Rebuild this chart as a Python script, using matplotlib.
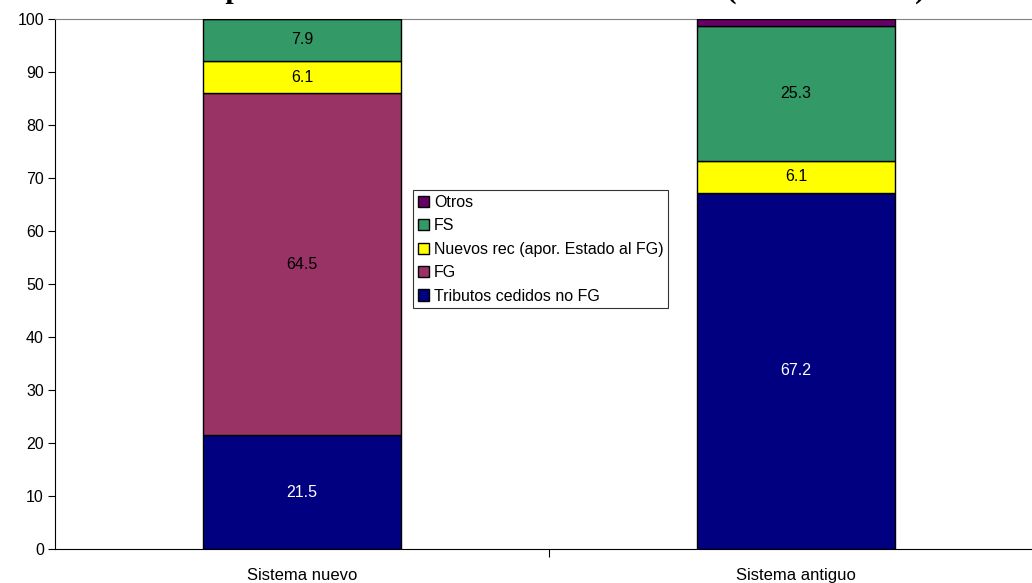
import matplotlib
matplotlib.use("Agg")
import matplotlib.pyplot as plt
import numpy as np

categories = ["Sistema nuevo", "Sistema antiguo"]
series_names = ["Tributos cedidos no FG", "FG", "Nuevos rec (apor. Estado al FG)", "FS", "Otros"]
tributos = [21.5, 67.2]
fg = [64.5, 0.0]
nuevos = [6.1, 6.1]
fs = [7.9, 25.3]
otros = [0.0, 1.4]
colors = ["#000080", "#993366", "#FFFF00", "#339966", "#660066"]
label_colors = ["white", "black", "black", "black", None]
y_ticks = [0, 10, 20, 30, 40, 50, 60, 70, 80, 90, 100]
title = "Composición de la financiación autonómica (en % del total)"

plt.rcParams['font.family'] = ['Liberation Sans', 'DejaVu Sans']

fig = plt.figure(figsize=(10.32, 5.83), dpi=100)
ax = fig.add_axes([55/1032, 1-549/583, 988/1032, 530/583])

x = np.arange(len(categories))
series = [tributos, fg, nuevos, fs, otros]
bottom = np.zeros(len(categories))
handles = []
for vals, name, col, lc in zip(series, series_names, colors, label_colors):
    vals = np.array(vals)
    bars = ax.bar(x, vals, width=0.40, bottom=bottom, color=col, edgecolor="black",
                  linewidth=1.0, label=name, zorder=3)
    handles.append(bars)
    if lc is not None:
        for xi, v, b in zip(x, vals, bottom):
            if v > 0:
                ax.text(xi, b + v / 2, f"{v:.1f}", ha="center", va="center",
                        color=lc, fontsize=11.5, zorder=4)
    bottom = bottom + vals

ax.set_xlim(-0.5, 1.5)
ax.set_ylim(0, 100)
ax.set_yticks(y_ticks)
ax.set_yticklabels([str(t) for t in y_ticks], fontsize=11.5)
ax.set_xticks([0.5])
ax.set_xticklabels([])
ax.tick_params(axis="x", length=6, direction="out", color="black")
for xi, c in zip(x, categories):
    ax.annotate(c, xy=(xi, 0), xycoords="data", xytext=(0, -19),
                textcoords="offset points", ha="center", va="center", fontsize=12)
ax.tick_params(axis="y", length=5, direction="out", pad=3)
ax.spines["right"].set_visible(False)
ax.spines["top"].set_color("#808080")
ax.spines["left"].set_color("black")
ax.spines["bottom"].set_color("black")

h = handles[::-1]
leg = ax.legend(h, [b.get_label() for b in h], loc="upper left",
                bbox_to_anchor=((413 - 55) / 988, 1 - (190 - 19) / 530),
                bbox_transform=ax.transAxes,
                fontsize=11.5, frameon=True, fancybox=False, edgecolor="black",
                handlelength=0.7, handleheight=0.7, handletextpad=0.3,
                labelspacing=0.53, borderpad=0.3, borderaxespad=0)
leg.get_frame().set_linewidth(0.8)
leg.set_zorder(5)

fig.text(545/1032, 1.004, title, ha="center", va="baseline", fontsize=21.5,
         fontweight="bold", family=["Liberation Serif", "DejaVu Serif"])

fig.savefig("out.png", dpi=100)
